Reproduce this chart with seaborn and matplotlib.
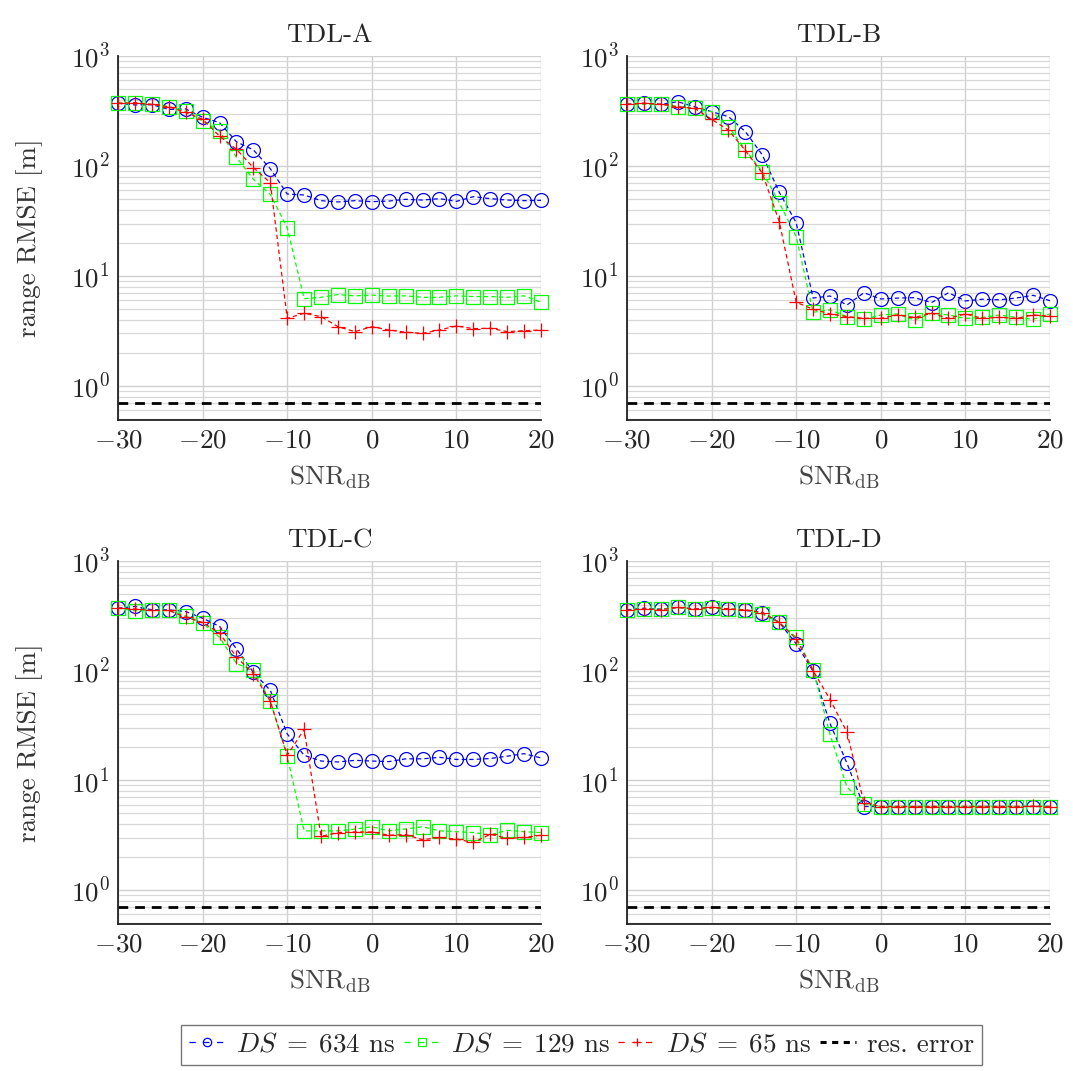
import matplotlib
matplotlib.use("Agg")
import matplotlib.pyplot as plt
import seaborn as sns
import pandas as pd
from matplotlib.ticker import LogLocator, NullFormatter, FixedLocator
from matplotlib.lines import Line2D

# ---------------- data ----------------
snr_db = list(range(-30, 21, 2))
channels = ["TDL-A", "TDL-B", "TDL-C", "TDL-D"]
series_labels = [r"$DS\;=\;634$ ns", r"$DS\;=\;129$ ns", r"$DS\;=\;65$ ns"]
res_error = 0.7

tdl_a_634 = [372, 359, 361, 327, 330, 277, 248, 166, 140, 94.5, 55.6, 54.5, 48.4, 47.1, 48.4, 47.4,
             48.0, 49.8, 49.0, 50.5, 47.7, 52.6, 50.5, 49.0, 48.4, 48.7]
tdl_a_129 = [372, 376, 363, 346, 316, 256, 208, 120, 75.7, 55.2, 27.5, 6.22, 6.4, 6.77, 6.6, 6.7,
             6.57, 6.6, 6.4, 6.4, 6.6, 6.5, 6.5, 6.4, 6.6, 5.77]
tdl_a_65 = [372, 376, 363, 346, 307, 266, 187, 142, 96.6, 70.5, 4.12, 4.58, 4.27, 3.46, 3.12, 3.46,
            3.23, 3.08, 3.01, 3.23, 3.51, 3.32, 3.35, 3.12, 3.18, 3.23]

tdl_b_634 = [364, 372, 364, 384, 346, 312, 281, 205, 126, 57.7, 30.5, 6.3, 6.58, 5.45, 7.04, 6.18,
             6.3, 6.35, 5.73, 7.04, 5.93, 6.15, 6.07, 6.3, 6.67, 5.96]
tdl_b_129 = [364, 364, 364, 346, 334, 312, 228, 140, 88.8, 46.4, 22.8, 4.68, 4.91, 4.27, 4.04, 4.42,
             4.52, 3.98, 4.58, 4.42, 4.12, 4.2, 4.42, 4.2, 4.04, 4.52]
tdl_b_65 = [364, 372, 364, 346, 334, 266, 212, 138, 85.8, 31.2, 5.77, 4.98, 4.52, 4.27, 4.12, 4.12,
            4.42, 4.2, 4.58, 4.12, 4.52, 4.12, 4.2, 4.12, 4.42, 4.33]

tdl_c_634 = [371, 385, 359, 359, 346, 301, 253, 158, 96.6, 66.2, 26.5, 16.9, 15.0, 14.7, 15.2, 15.0,
             14.8, 15.7, 15.7, 16.2, 15.5, 15.5, 15.8, 16.6, 17.5, 16.0]
tdl_c_129 = [371, 351, 354, 354, 316, 271, 202, 116, 101, 52.6, 16.6, 3.46, 3.46, 3.46, 3.59, 3.77,
             3.46, 3.6, 3.77, 3.46, 3.4, 3.34, 3.18, 3.5, 3.4, 3.34]
tdl_c_65 = [371, 366, 354, 354, 307, 275, 220, 133, 93.9, 52.6, 16.9, 29.1, 3.08, 3.34, 3.38, 3.38,
            3.16, 3.2, 2.87, 3.01, 2.91, 2.71, 3.22, 2.96, 3.01, 3.16]

tdl_d_634 = [359, 371, 364, 377, 366, 377, 364, 354, 339, 275, 176, 98.6, 33.0, 14.3, 5.77, 5.77,
             5.77, 5.77, 5.77, 5.77, 5.77, 5.77, 5.77, 5.77, 5.77, 5.77]
tdl_d_129 = [354, 364, 364, 377, 364, 371, 364, 359, 327, 275, 202, 102, 26.2, 8.69, 6.05, 5.77,
             5.77, 5.77, 5.77, 5.77, 5.77, 5.77, 5.77, 5.77, 5.77, 5.77]
tdl_d_65 = [354, 366, 359, 377, 366, 377, 366, 359, 339, 275, 195, 100, 54.5, 27.5, 6.27, 5.77,
            5.77, 5.77, 5.77, 5.77, 5.77, 5.77, 5.77, 5.77, 5.8, 5.77]

panel_series = {
    "TDL-A": [tdl_a_634, tdl_a_129, tdl_a_65],
    "TDL-B": [tdl_b_634, tdl_b_129, tdl_b_65],
    "TDL-C": [tdl_c_634, tdl_c_129, tdl_c_65],
    "TDL-D": [tdl_d_634, tdl_d_129, tdl_d_65],
}

# ---------------- style ----------------
sns.set_style("white")
plt.rcParams["font.family"] = ["cmr10", "DejaVu Serif"]
plt.rcParams["mathtext.fontset"] = "cm"
plt.rcParams["axes.formatter.use_mathtext"] = True
plt.rcParams["axes.unicode_minus"] = True
FS = 19.5

colors = ["#0000ff", "#00ff00", "#ff0000"]
markers = ["o", "s", "+"]
msizes = [10.0, 9.5, 10.5]
dash = (0, (3.5, 2.5))

fig = plt.figure(figsize=(10.73, 10.71), dpi=100)
positions = [
    (0.110, 0.6078, 0.3942, 0.3399),
    (0.5843, 0.6078, 0.3943, 0.3399),
    (0.110, 0.1373, 0.3942, 0.3389),
    (0.5843, 0.1373, 0.3943, 0.3389),
]

for idx, ch in enumerate(channels):
    ax = fig.add_axes(positions[idx])
    for s, vals in enumerate(panel_series[ch]):
        df = pd.DataFrame({"snr": snr_db, "rmse": vals})
        sns.lineplot(data=df, x="snr", y="rmse", ax=ax, color=colors[s],
                     marker=markers[s], markersize=msizes[s], mfc="none",
                     mec=colors[s], mew=0.9, lw=0.9, linestyle=dash,
                     clip_on=False, zorder=3 + s)
    ax.axhline(res_error, color="black", lw=2.0, linestyle=(0, (3.5, 2.5)), zorder=2)

    ax.set_yscale("log")
    ax.set_xlim(-30, 20)
    ax.set_ylim(0.49, 1000)
    ax.xaxis.set_major_locator(FixedLocator([-30, -20, -10, 0, 10, 20]))
    ax.yaxis.set_major_locator(LogLocator(base=10, numticks=10))
    ax.yaxis.set_minor_locator(LogLocator(base=10, subs=range(2, 10), numticks=20))
    ax.yaxis.set_minor_formatter(NullFormatter())

    ax.grid(True, which="major", color="#d0d0d0", lw=1.0, zorder=0)
    ax.grid(True, which="minor", axis="y", color="#d8d8d8", lw=0.9, zorder=0)
    ax.set_axisbelow(True)

    for sp in ["top", "right"]:
        ax.spines[sp].set_visible(False)
    for sp in ["left", "bottom"]:
        ax.spines[sp].set_color("#222222")
        ax.spines[sp].set_linewidth(1.3)

    ax.tick_params(axis="both", which="major", direction="in", length=5, width=0.8,
                   color="#888888", labelsize=FS, pad=6)
    ax.tick_params(axis="y", which="minor", direction="in", length=3, width=0.6,
                   color="#888888")
    ax.tick_params(axis="x", which="minor", length=0)

    ax.set_title(ch, fontsize=FS, pad=10)
    ax.set_xlabel(r"$\mathrm{SNR}_{\mathrm{dB}}$", fontsize=FS, color="#444444", labelpad=8)
    if idx % 2 == 0:
        ax.set_ylabel("range RMSE [m]", fontsize=FS, color="#333333", labelpad=20)
    else:
        ax.set_ylabel("")

handles = [
    Line2D([], [], color=colors[s], marker=markers[s], markersize=msizes[s] * 0.6,
           mfc="none", mec=colors[s], mew=0.9, lw=0.9, linestyle=(0, (5, 6)))
    for s in range(3)
]
handles.append(Line2D([], [], color="black", lw=2.2, linestyle=(0, (2.0, 1.8))))
labels = series_labels + ["res. error"]

fig.legend(handles, labels, loc="center", bbox_to_anchor=(0.542, 0.0243), ncol=4,
           fontsize=FS, frameon=True, fancybox=False, edgecolor="#555555",
           handlelength=1.35, handletextpad=0.4, columnspacing=0.3,
           borderpad=0.3, borderaxespad=0.2)

fig.savefig("out.png", dpi=100)
